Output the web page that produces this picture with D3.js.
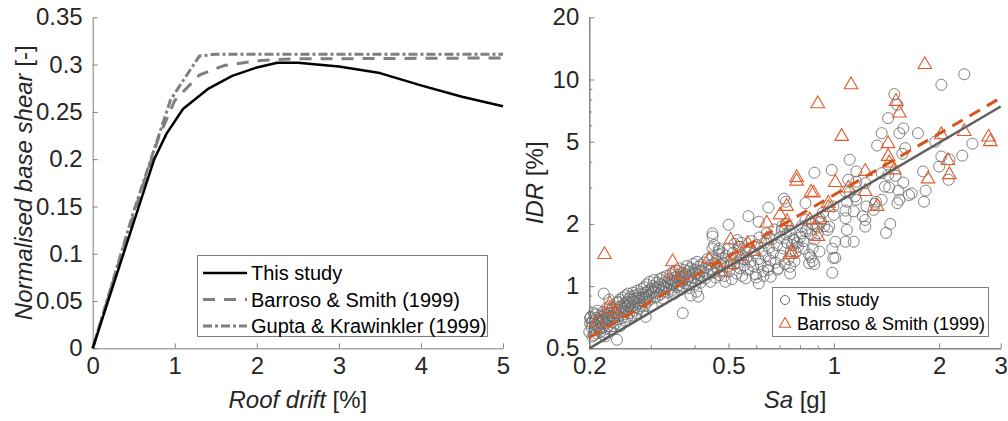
<!DOCTYPE html>
<html><head><meta charset="utf-8">
<script src="https://cdn.jsdelivr.net/npm/d3@7"></script>
<style>
html,body{margin:0;padding:0;background:#fff;}
svg{display:block;font-family:"Liberation Sans",Arial,sans-serif;}
</style></head><body>
<svg id="chart" width="1008" height="421"></svg>
<script>
// ---- Pushover curves: [roof drift %, normalised base shear] ----
const pushoverThisStudy = [[0,0],[0.75,0.2],[0.9,0.227],[1.1,0.253],[1.4,0.274],[1.7,0.288],[2.0,0.297],[2.25,0.302],[2.5,0.302],[3.0,0.298],[3.5,0.291],[4.0,0.278],[4.5,0.266],[5,0.256]];
const pushoverBarroso = [[0,0],[0.5,0.142],[0.8,0.222],[1.0,0.262],[1.3,0.289],[1.6,0.299],[2.0,0.304],[2.4,0.306],[5,0.307]];
const pushoverGupta = [[0,0],[0.5,0.145],[0.95,0.263],[1.3,0.309],[1.5,0.311],[5,0.311]];
const driftTicks = [0,1,2,3,4,5];
const shearTicks = [0,0.05,0.1,0.15,0.2,0.25,0.3,0.35];

// ---- IDR vs Sa: [Sa g, IDR %] ----
const idrThisStudy = [
[0.200,0.60],[0.201,0.66],[0.202,0.71],[0.203,0.63],[0.204,0.57],[0.205,0.68],[0.206,0.74],[0.207,0.61],[0.208,0.65],[0.209,0.70],[0.210,0.59],[0.211,0.76],[0.212,0.64],[0.213,0.69],[0.214,0.62],[0.215,0.72],[0.203,0.67],[0.206,0.58],[0.209,0.73],[0.212,0.67],[0.215,0.60],[0.201,0.70],
[0.216,0.66],[0.217,0.71],[0.218,0.63],[0.219,0.75],[0.220,0.69],[0.221,0.60],[0.222,0.73],[0.223,0.66],[0.224,0.78],[0.225,0.70],[0.226,0.64],[0.227,0.74],[0.228,0.68],[0.229,0.80],[0.230,0.62],[0.231,0.72],[0.232,0.77],[0.233,0.67],[0.234,0.70],[0.235,0.75],[0.218,0.68],[0.222,0.57],[0.226,0.70],[0.230,0.74],[0.234,0.64],[0.228,0.86],[0.224,0.62],
[0.236,0.71],[0.237,0.79],[0.238,0.66],[0.239,0.74],[0.240,0.83],[0.241,0.69],[0.242,0.77],[0.243,0.72],[0.244,0.86],[0.245,0.64],[0.246,0.80],[0.247,0.75],[0.248,0.70],[0.249,0.88],[0.250,0.78],[0.251,0.73],[0.252,0.82],[0.253,0.68],[0.254,0.90],[0.255,0.76],[0.256,0.84],[0.257,0.71],[0.258,0.80],[0.259,0.87],[0.260,0.74],[0.242,0.84],[0.248,0.79],[0.253,0.75],[0.258,0.92],
[0.261,0.83],[0.262,0.78],[0.263,0.89],[0.264,0.72],[0.265,0.86],[0.266,0.80],[0.267,0.93],[0.268,0.76],[0.269,0.84],[0.270,0.90],[0.271,0.79],[0.272,0.87],[0.273,0.74],[0.274,0.95],[0.275,0.82],[0.276,0.88],[0.277,0.78],[0.278,0.92],[0.279,0.85],[0.280,0.80],[0.282,0.97],[0.283,0.88],[0.284,0.76],[0.285,0.91],[0.286,0.84],[0.287,0.99],[0.288,0.87],[0.289,0.81],[0.290,0.93],
[0.291,0.89],[0.292,1.02],[0.293,0.84],[0.294,0.95],[0.296,0.90],[0.297,1.05],[0.298,0.86],[0.300,0.97],[0.301,0.92],[0.302,0.80],[0.304,1.00],[0.305,0.94],[0.306,1.07],[0.308,0.88],[0.309,0.98],[0.310,0.93],[0.312,1.04],[0.313,0.89],[0.315,0.99],[0.316,0.95],[0.318,1.08],[0.319,0.91],[0.320,1.02],[0.322,0.96],[0.324,1.10],[0.325,0.87],[0.327,1.00],[0.328,0.94],[0.330,1.05],
[0.332,0.98],[0.333,1.12],[0.335,0.93],[0.336,1.03],[0.338,1.08],[0.339,0.97],[0.341,1.14],[0.342,1.01],[0.344,0.95],[0.345,1.06],[0.347,1.17],[0.348,1.02],[0.350,0.92],[0.351,1.10],[0.353,1.04],[0.354,1.19],[0.356,0.99],[0.357,1.08],[0.359,1.13],[0.360,1.01],[0.362,1.22],[0.363,1.06],[0.365,0.96],[0.366,1.11],[0.368,1.05],[0.369,1.16],[0.370,1.00],
[0.372,1.09],[0.374,1.20],[0.376,1.03],[0.378,1.14],[0.380,1.25],[0.382,1.07],[0.384,1.18],[0.386,0.98],[0.388,1.12],[0.390,1.22],[0.392,1.06],[0.394,1.16],[0.396,1.28],[0.398,1.10],[0.400,1.20],[0.402,1.02],[0.404,1.15],[0.406,1.31],[0.408,1.08],[0.410,1.24],[0.412,1.13],[0.414,1.19],[0.416,1.04],[0.418,1.27],[0.420,1.11],[0.390,0.90],[0.405,0.94],
[0.423,1.18],[0.426,1.30],[0.429,1.09],[0.432,1.23],[0.435,1.35],[0.438,1.14],[0.441,1.26],[0.444,1.05],[0.447,1.21],[0.450,1.38],[0.453,1.16],[0.456,1.29],[0.459,1.10],[0.462,1.33],[0.465,1.22],[0.468,1.42],[0.471,1.13],[0.474,1.27],[0.477,1.36],[0.480,1.19],[0.455,1.58],[0.470,1.48],
[0.483,1.30],[0.487,1.12],[0.491,1.40],[0.495,1.24],[0.499,1.52],[0.503,1.18],[0.507,1.33],[0.511,1.08],[0.515,1.45],[0.519,1.27],[0.523,1.37],[0.527,1.15],[0.531,1.30],[0.535,1.55],[0.539,1.22],[0.543,1.42],[0.547,1.12],[0.551,1.35],[0.555,1.26],[0.559,1.48],[0.490,1.05],[0.520,1.60],[0.545,1.62],
[0.563,1.38],[0.568,1.20],[0.573,1.52],[0.578,1.31],[0.583,1.65],[0.588,1.25],[0.593,1.44],[0.598,1.14],[0.603,1.58],[0.608,1.35],[0.613,1.72],[0.618,1.28],[0.623,1.48],[0.628,1.18],[0.633,1.62],[0.638,1.40],[0.643,1.80],[0.648,1.24],[0.653,1.53],[0.658,1.33],[0.600,1.10],[0.630,1.12],
[0.664,1.68],[0.670,1.45],[0.676,1.88],[0.682,1.30],[0.688,1.58],[0.694,1.22],[0.700,1.72],[0.706,1.40],[0.712,1.95],[0.718,1.52],[0.724,1.28],[0.730,1.78],[0.736,1.62],[0.742,1.35],[0.748,1.85],[0.754,1.48],[0.760,1.58],[0.766,1.70],[0.772,1.32],[0.778,1.46],[0.784,1.62],[0.790,1.55],
[0.80,1.72],[0.81,1.95],[0.82,1.65],[0.84,1.90],[0.86,1.78],[0.87,2.00],[0.88,1.68],[0.89,1.95],[0.92,2.05],[0.94,1.95],[0.87,1.32],[0.88,1.28],[0.86,1.38],
[2.36,10.6],[2.03,9.43],[1.49,8.5],[1.52,7.55],[1.43,6.5],[1.37,5.5],[1.58,5.8],[1.54,5.5],[1.74,5.5],[1.33,4.79],[1.57,4.37],[1.60,4.65],[1.95,5.0],[2.03,4.24],[2.00,3.79],[2.14,4.1],[2.13,3.27],[2.33,4.28],[2.49,4.89],
[1.11,4.09],[0.986,3.65],[0.88,3.54],[1.16,3.59],[1.37,3.52],[1.43,3.45],[1.50,3.42],[1.58,3.17],[1.44,3.0],[1.53,2.9],[1.54,2.62],[1.52,2.52],[1.64,2.76],[1.67,2.81],[1.80,3.59],[1.83,2.9],[1.81,2.56],[1.40,3.03],[1.37,2.62],[1.32,2.56],[1.23,3.15],[1.16,3.2],[1.10,3.27],
[1.08,2.87],[1.11,2.84],[1.15,2.72],[1.16,2.62],[1.09,2.56],[1.08,2.32],[1.14,2.30],[1.08,2.13],[1.09,1.87],[1.14,1.64],[1.08,1.64],[1.01,1.64],[1.21,2.18],[1.23,2.09],[1.23,1.94],[1.31,2.5],[1.30,2.34],[1.24,2.43],[1.41,1.81],[1.45,2.0],
[0.997,2.43],[1.0,2.21],[0.93,2.26],[0.91,2.13],[0.90,1.92],[0.90,1.80],[0.97,1.94],[0.96,1.87],[0.99,1.52],[0.997,1.37],[0.99,1.16],[1.01,1.37],[0.91,1.47],[0.85,1.42],[0.85,1.29],[0.87,1.52],[0.81,1.80],[0.82,1.52],[0.83,2.09],[0.83,1.84],
[0.73,2.0],[0.71,1.87],[0.77,1.67],[0.83,2.52],[0.72,2.65],[0.73,2.56],[0.65,2.40],[0.57,2.18],[0.61,2.05],[0.50,1.98],[0.45,1.80],[0.45,1.74],[0.45,1.52],[0.47,1.52],[0.48,1.44],[0.53,1.67],[0.54,1.55],
[0.61,1.03],[0.56,1.09],[0.66,1.11],[0.65,1.20],[0.75,1.15],[0.75,1.24],[0.69,1.20],[0.41,0.89],[0.37,0.74],[0.29,0.71],[0.24,0.55],[0.22,0.92],[0.22,0.58]
];
const idrBarroso = [
[0.221,1.42],[1.82,11.8],[1.12,9.43],[0.90,7.63],[1.053,5.3],[1.506,7.83],[1.54,6.88],[1.43,4.89],[1.43,4.24],[1.44,3.94],[1.49,3.65],[2.03,5.4],[2.36,5.6],[2.77,5.26],[2.80,5.0],
[2.12,4.05],[2.14,3.46],[1.86,3.3],[1.23,3.59],[1.23,2.87],[1.10,2.98],[1.01,3.17],[0.965,2.52],[0.965,2.40],[1.33,2.43],[0.861,2.84],[0.875,2.82],[0.783,3.35],[0.783,3.22],[0.853,2.09],[0.91,2.09],[0.90,1.74],
[0.702,2.21],[0.733,2.43],[0.735,2.05],[0.643,2.02],[0.643,1.69],[0.75,1.42],[0.76,1.45],[0.567,1.61],[0.589,1.47],[0.541,1.39],[0.507,1.67],[0.505,1.27],[0.477,1.17],[0.44,1.35],[0.346,1.31],[0.347,1.15],[0.37,1.13],
[0.229,0.82],[0.229,0.77],[0.239,0.74],[0.211,0.67]
];
// log-log regression lines, end points
const fitThisStudy = [[0.2,0.5],[3,7.4]];
const fitBarroso = [[0.2,0.565],[3,8.15]];
const saMajorTicks = [0.2,0.5,1,2,3];
const saMinorTicks = [0.3,0.4,0.6,0.7,0.8,0.9];
const idrMajorTicks = [0.5,1,2,5,10,20];
const idrMinorTicks = [0.6,0.7,0.8,0.9,3,4,6,7,8,9];

const svg = d3.select("#chart");
const axisColor = "#7f7f7f", textColor = "#262626";
const tickFont = 24, legendFont = 20, legendFontR = 18;

function styleAxis(g) {
  g.select(".domain").attr("stroke", axisColor).attr("stroke-width", 1);
  g.selectAll(".tick line").attr("stroke", axisColor).attr("stroke-width", 1);
  g.selectAll(".tick text").attr("fill", textColor).attr("font-size", tickFont)
    .attr("font-family", "'Liberation Sans', Arial, sans-serif");
}

// ================= Left panel: pushover curves =================
const L = {left: 92.7, right: 503, top: 17.3, bottom: 348.3};
const xL = d3.scaleLinear().domain([0, 5]).range([L.left, L.right]);
const yL = d3.scaleLinear().domain([0, 0.35]).range([L.bottom, L.top]);

svg.append("g").attr("transform", `translate(0,${L.bottom})`)
  .call(d3.axisBottom(xL).tickValues(driftTicks).tickFormat(d => String(d)).tickSizeInner(-5).tickSizeOuter(0).tickPadding(9))
  .call(styleAxis);
svg.append("g").attr("transform", `translate(${L.left},0)`)
  .call(d3.axisLeft(yL).tickValues(shearTicks).tickFormat(d => String(d)).tickSizeInner(-5).tickSizeOuter(0).tickPadding(10))
  .call(styleAxis);

const lineL = d3.line().x(d => xL(d[0])).y(d => yL(d[1]));
const pushoverSeries = [
  {name: "Barroso & Smith (1999)", data: pushoverBarroso, color: "#7f7f7f", width: 3, dash: "12,9"},
  {name: "Gupta & Krawinkler (1999)", data: pushoverGupta, color: "#7f7f7f", width: 3, dash: "9,3,3,3"},
  {name: "This study", data: pushoverThisStudy, color: "#000000", width: 2.5, dash: null}
];
pushoverSeries.forEach(s => {
  svg.append("path").datum(s.data).attr("d", lineL)
    .attr("fill", "none").attr("stroke", s.color).attr("stroke-width", s.width)
    .attr("stroke-dasharray", s.dash).attr("stroke-linejoin", "round");
});

// axis titles
svg.append("text").attr("x", (L.left + L.right) / 2).attr("y", 408)
  .attr("text-anchor", "middle").attr("font-size", tickFont).attr("fill", textColor)
  .call(t => { t.append("tspan").attr("font-style", "italic").text("Roof drift"); t.append("tspan").text(" [%]"); });
svg.append("text").attr("transform", `translate(32,${(L.top + L.bottom) / 2}) rotate(-90)`)
  .attr("text-anchor", "middle").attr("font-size", tickFont).attr("fill", textColor)
  .call(t => { t.append("tspan").attr("font-style", "italic").text("Normalised base shear"); t.append("tspan").text(" [-]"); });

// legend
const legL = svg.append("g");
legL.append("rect").attr("x", 197.5).attr("y", 255.5).attr("width", 290).attr("height", 81)
  .attr("fill", "#fff").attr("stroke", axisColor).attr("stroke-width", 1);
[pushoverSeries[2], pushoverSeries[0], pushoverSeries[1]].forEach((s, i) => {
  const cy = 273 + i * 26.5;
  legL.append("line").attr("x1", 203).attr("x2", 247).attr("y1", cy).attr("y2", cy)
    .attr("stroke", s.color).attr("stroke-width", s.width).attr("stroke-dasharray", s.dash);
  legL.append("text").attr("x", 251).attr("y", cy).attr("dy", "0.35em")
    .attr("font-size", legendFont).attr("fill", "#000").text(s.name);
});

// ================= Right panel: IDR vs Sa =================
const R = {left: 589.3, right: 1000.7, top: 17.3, bottom: 348.3};
const xR = d3.scaleLog().domain([0.2, 3]).range([R.left, R.right]);
const yR = d3.scaleLog().domain([0.5, 20]).range([R.bottom, R.top]);

svg.append("g").attr("transform", `translate(0,${R.bottom})`)
  .call(d3.axisBottom(xR).tickValues(saMinorTicks).tickFormat("").tickSizeInner(-3).tickSizeOuter(0))
  .call(styleAxis);
svg.append("g").attr("transform", `translate(0,${R.bottom})`)
  .call(d3.axisBottom(xR).tickValues(saMajorTicks).tickFormat(d => String(d)).tickSizeInner(-5).tickSizeOuter(0).tickPadding(9))
  .call(styleAxis);
svg.append("g").attr("transform", `translate(${R.left},0)`)
  .call(d3.axisLeft(yR).tickValues(idrMinorTicks).tickFormat("").tickSizeInner(-3).tickSizeOuter(0))
  .call(styleAxis);
svg.append("g").attr("transform", `translate(${R.left},0)`)
  .call(d3.axisLeft(yR).tickValues(idrMajorTicks).tickFormat(d => String(d)).tickSizeInner(-5).tickSizeOuter(0).tickPadding(10))
  .call(styleAxis);

const circleColor = "#6b6b6b", triColor = "#e05a2b";
const plotR = svg.append("g");
plotR.selectAll("circle.pt").data(idrThisStudy).join("circle").attr("class", "pt")
  .attr("cx", d => xR(d[0])).attr("cy", d => yR(d[1])).attr("r", 5.5)
  .attr("fill", "none").attr("stroke", circleColor).attr("stroke-opacity", 0.85).attr("stroke-width", 1);
const tri = d3.symbol().type(d3.symbolTriangle).size(80);
plotR.selectAll("path.tri").data(idrBarroso).join("path").attr("class", "tri")
  .attr("d", tri).attr("transform", d => `translate(${xR(d[0])},${yR(d[1])})`)
  .attr("fill", "none").attr("stroke", triColor).attr("stroke-width", 1.1);

const lineR = d3.line().x(d => xR(d[0])).y(d => yR(d[1]));
plotR.append("path").datum(fitThisStudy).attr("d", lineR)
  .attr("fill", "none").attr("stroke", "#5f5f5f").attr("stroke-width", 2.5);
plotR.append("path").datum(fitBarroso).attr("d", lineR)
  .attr("fill", "none").attr("stroke", "#d95319").attr("stroke-width", 3).attr("stroke-dasharray", "12,8");

svg.append("text").attr("x", (R.left + R.right) / 2).attr("y", 408)
  .attr("text-anchor", "middle").attr("font-size", tickFont).attr("fill", textColor)
  .call(t => { t.append("tspan").attr("font-style", "italic").text("Sa"); t.append("tspan").text(" [g]"); });
svg.append("text").attr("transform", `translate(543,${(R.top + R.bottom) / 2}) rotate(-90)`)
  .attr("text-anchor", "middle").attr("font-size", tickFont).attr("fill", textColor)
  .call(t => { t.append("tspan").attr("font-style", "italic").text("IDR"); t.append("tspan").text(" [%]"); });

// legend
const legR = svg.append("g");
legR.append("rect").attr("x", 772.5).attr("y", 287.5).attr("width", 216).attr("height", 49)
  .attr("fill", "#fff").attr("stroke", axisColor).attr("stroke-width", 1);
legR.append("circle").attr("cx", 785).attr("cy", 300).attr("r", 4.5)
  .attr("fill", "none").attr("stroke", circleColor).attr("stroke-width", 1);
legR.append("text").attr("x", 797).attr("y", 300).attr("dy", "0.35em")
  .attr("font-size", legendFontR).attr("fill", "#000").text("This study");
legR.append("path").attr("d", d3.symbol().type(d3.symbolTriangle).size(55))
  .attr("transform", "translate(785,324)").attr("fill", "none").attr("stroke", triColor).attr("stroke-width", 1.1);
legR.append("text").attr("x", 797).attr("y", 324).attr("dy", "0.35em")
  .attr("font-size", legendFontR).attr("fill", "#000").text("Barroso & Smith (1999)");
</script>
</body></html>
